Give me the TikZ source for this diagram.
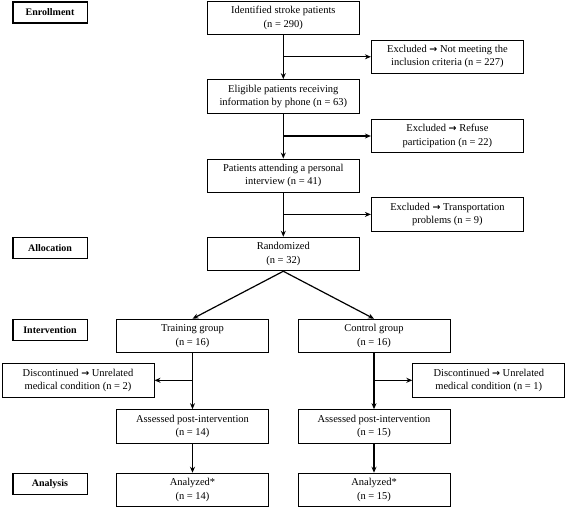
\documentclass[tikz,border=0pt]{standalone}
\usepackage{fontspec}
\setmainfont{Liberation Serif}
\newfontfamily\arrowfont{DejaVu Sans}
\newcommand{\ra}{{\arrowfont\bfseries\fontsize{9.5}{9.5}\selectfont →}}
\usetikzlibrary{arrows.meta}
\begin{document}
\begin{tikzpicture}[x=1pt,y=-1pt,
  box/.style={draw, line width=1pt, minimum width=152pt, minimum height=33.5pt, inner sep=0pt,
    align=center, font=\fontsize{10.5}{13.3}\selectfont},
  phase/.style={draw, line width=1.6pt, minimum width=74.6pt, minimum height=21pt, inner sep=0pt,
    font=\fontsize{10}{12}\selectfont\bfseries},
  arr/.style={line width=1.2pt, -{Stealth[length=6pt,width=5pt]}}]
\useasboundingbox (0,0) rectangle (567,509);
% phase labels
\node[phase] (enr) at (50,12.2) {Enrollment};
\node[phase] (alloc) at (50,247.8) {Allocation};
\node[phase] (interv) at (50,329.8) {Intervention};
\node[phase] (anal) at (50,483.8) {Analysis};
% main column
\node[box] (id) at (283.3,18) {Identified stroke patients\\(n = 290)};
\node[box] (ex1) at (447.4,56.8) {Excluded \ra{} Not meeting the\\inclusion criteria (n = 227)};
\node[box] (el) at (283.3,96.4) {Eligible patients receiving\\information by phone (n = 63)};
\node[box] (ex2) at (447.4,136) {Excluded \ra{} Refuse\\participation (n = 22)};
\node[box] (pat) at (283.3,175.8) {Patients attending a personal\\interview (n = 41)};
\node[box] (ex3) at (447.4,214.4) {Excluded \ra{} Transportation\\problems (n = 9)};
\node[box] (rand) at (283.3,254) {Randomized\\(n = 32)};
% groups
\node[box] (tr) at (192.5,336) {Training group\\(n = 16)};
\node[box] (co) at (374,336) {Control group\\(n = 16)};
\node[box] (dl) at (78,380.3) {Discontinued \ra{} Unrelated\\medical condition (n = 2)};
\node[box] (dr) at (488.8,380.3) {Discontinued \ra{} Unrelated\\medical condition (n = 1)};
\node[box] (al) at (192.5,426.4) {Assessed post-intervention\\(n = 14)};
\node[box] (ar) at (374,426.4) {Assessed post-intervention\\(n = 15)};
\node[box] (nl) at (192.5,490) {Analyzed*\\(n = 14)};
\node[box] (nr) at (374,490) {Analyzed*\\(n = 15)};
% connectors
\draw[arr] (id) -- (el);
\draw[arr] (id.south |- ex1.west) -- (ex1.west);
\draw[arr] (el) -- (pat);
\draw[arr] (el.south |- ex2.west) -- (ex2.west);
\draw[arr] (pat) -- (rand);
\draw[arr] (pat.south |- ex3.west) -- (ex3.west);
\draw[arr] (rand.south) -- (tr.north);
\draw[arr] (rand.south) -- (co.north);
\draw[arr] (tr) -- (al);
\draw[arr] (tr.south |- dl.east) -- (dl.east);
\draw[arr] (co) -- (ar);
\draw[arr] (co.south |- dr.west) -- (dr.west);
\draw[arr] (al) -- (nl);
\draw[arr] (ar) -- (nr);
\end{tikzpicture}
\end{document}
